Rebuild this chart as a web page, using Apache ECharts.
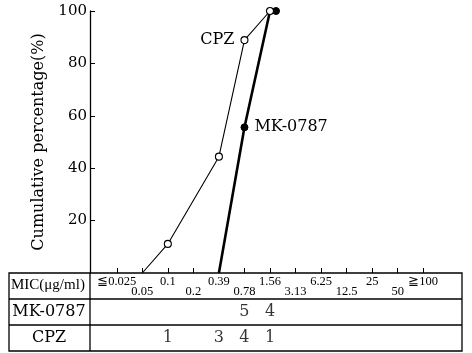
<!DOCTYPE html>
<html>
<head>
    <meta charset="utf-8">
    <script src="https://cdn.jsdelivr.net/npm/echarts@6/dist/echarts.min.js"></script>
</head>
<body style="margin:0;background:#fff">
<div id="main" style="width:472px;height:353px;"></div>
<script type="text/javascript">
    // MIC steps (ug/ml)
    var micLabels = ['≦0.025', '0.05', '0.1', '0.2', '0.39', '0.78', '1.56', '3.13', '6.25', '12.5', '25', '50', '≧100'];
    // cumulative percentage
    var cpzCum = [null, 0, 11.1, null, 44.4, 88.9, 100, null, null, null, null, null, null];
    var mkCum = [null, null, null, null, 0, 55.6, 100, null, null, null, null, null, null];
    // number of strains at each MIC (table rows)
    var rowNames = ['MK-0787', 'CPZ'];
    var mkCount = [null, null, null, null, null, 5, 4, null, null, null, null, null, null];
    var cpzCount = [null, null, 1, null, 3, 4, 1, null, null, null, null, null, null];

    var serif = 'DejaVu Serif';
    var myChart = echarts.init(document.getElementById('main'));

    function lineData(arr, lastOffset) {
        return arr.map(function (v, i) {
            if (v === 0) return {value: 0, symbol: 'none'};
            if (lastOffset && v === 100) return {value: v, symbolOffset: lastOffset};
            return v;
        });
    }

    var countData = [];
    mkCount.forEach(function (c, i) { if (c != null) countData.push([i, rowNames[0], c]); });
    cpzCount.forEach(function (c, i) { if (c != null) countData.push([i, rowNames[1], c]); });

    option = {
        backgroundColor: '#fff',
        animation: false,
        grid: [
            {left: 104, right: 36, top: 11, height: 262},
            {left: 104, right: 36, top: 299, height: 52}
        ],
        xAxis: [
            {
                type: 'category', gridIndex: 0, data: micLabels, boundaryGap: true,
                axisLine: {show: false},
                axisTick: {show: true, inside: true, length: 5, alignWithLabel: true, lineStyle: {color: '#000', width: 1}},
                axisLabel: {
                    interval: 0, margin: 2, color: '#000', fontFamily: 'Liberation Serif', fontSize: 12.5,
                    formatter: function (v, i) { return i % 2 ? '{lo|' + v + '}' : '{hi|' + v + '}'; },
                    rich: {
                        hi: {fontFamily: 'Liberation Serif', fontSize: 12.5, color: '#000'},
                        lo: {fontFamily: 'Liberation Serif', fontSize: 12.5, color: '#000', padding: [10, 0, 0, 0]}
                    }
                },
                splitLine: {show: false}
            },
            {type: 'category', gridIndex: 1, data: micLabels, show: false}
        ],
        yAxis: [
            {
                type: 'value', gridIndex: 0, min: 0, max: 100, interval: 20, offset: 14,
                name: 'Cumulative percentage(%)', nameLocation: 'middle', nameGap: 43, nameRotate: 90,
                nameTextStyle: {fontFamily: serif, fontSize: 16, color: '#000'},
                axisLine: {show: true, lineStyle: {color: '#000', width: 1.3}},
                axisTick: {show: true, inside: true, length: 5, lineStyle: {color: '#000'}},
                axisLabel: {showMinLabel: false, margin: 3, fontFamily: serif, fontSize: 15, color: '#000'},
                splitLine: {show: false}
            },
            {
                type: 'category', gridIndex: 1, data: rowNames, inverse: true,
                axisLine: {show: false}, axisTick: {show: false},
                axisLabel: {margin: 55, align: 'center', fontFamily: serif, fontSize: 16, color: '#000'}
            }
        ],
        graphic: [
            {type: 'rect', shape: {x: 9, y: 273, width: 453, height: 78}, style: {fill: 'none', stroke: '#000', lineWidth: 1.3}},
            {type: 'line', shape: {x1: 9, y1: 299, x2: 462, y2: 299}, style: {stroke: '#000', lineWidth: 1.3}},
            {type: 'line', shape: {x1: 9, y1: 325, x2: 462, y2: 325}, style: {stroke: '#000', lineWidth: 1.3}},
            {type: 'line', shape: {x1: 90, y1: 273, x2: 90, y2: 351}, style: {stroke: '#000', lineWidth: 1.3}},
            {type: 'text', left: 11, top: 278, style: {text: 'MIC(μg/ml)', font: '15px Liberation Serif', fill: '#000'}}
        ],
        series: [
            {
                name: 'MK-0787', type: 'line', xAxisIndex: 0, yAxisIndex: 0,
                data: lineData(mkCum, [6, 0]),
                symbol: 'circle', symbolSize: 7,
                lineStyle: {color: '#000', width: 2.6},
                itemStyle: {color: '#000', borderColor: '#000', borderWidth: 1},
                label: {
                    show: true, position: 'right', distance: 6, fontFamily: serif, fontSize: 16, color: '#000',
                    formatter: function (p) { return p.dataIndex === 5 ? 'MK-0787' : ''; }
                },
                z: 2
            },
            {
                name: 'CPZ', type: 'line', xAxisIndex: 0, yAxisIndex: 0,
                data: lineData(cpzCum), connectNulls: true,
                symbol: 'circle', symbolSize: 7,
                lineStyle: {color: '#000', width: 1.1},
                itemStyle: {color: '#fff', borderColor: '#000', borderWidth: 1.1},
                label: {
                    show: true, position: 'left', distance: 6, fontFamily: serif, fontSize: 16, color: '#000',
                    formatter: function (p) { return p.dataIndex === 5 ? 'CPZ' : ''; }
                },
                z: 3
            },
            {
                name: 'counts', type: 'scatter', xAxisIndex: 1, yAxisIndex: 1,
                data: countData, symbolSize: 0,
                label: {
                    show: true, position: 'inside', fontFamily: serif, fontSize: 16, color: '#000',
                    formatter: function (p) { return p.value[2]; }
                }
            }
        ]
    };

    myChart.setOption(option);
</script>
</body>
</html>
